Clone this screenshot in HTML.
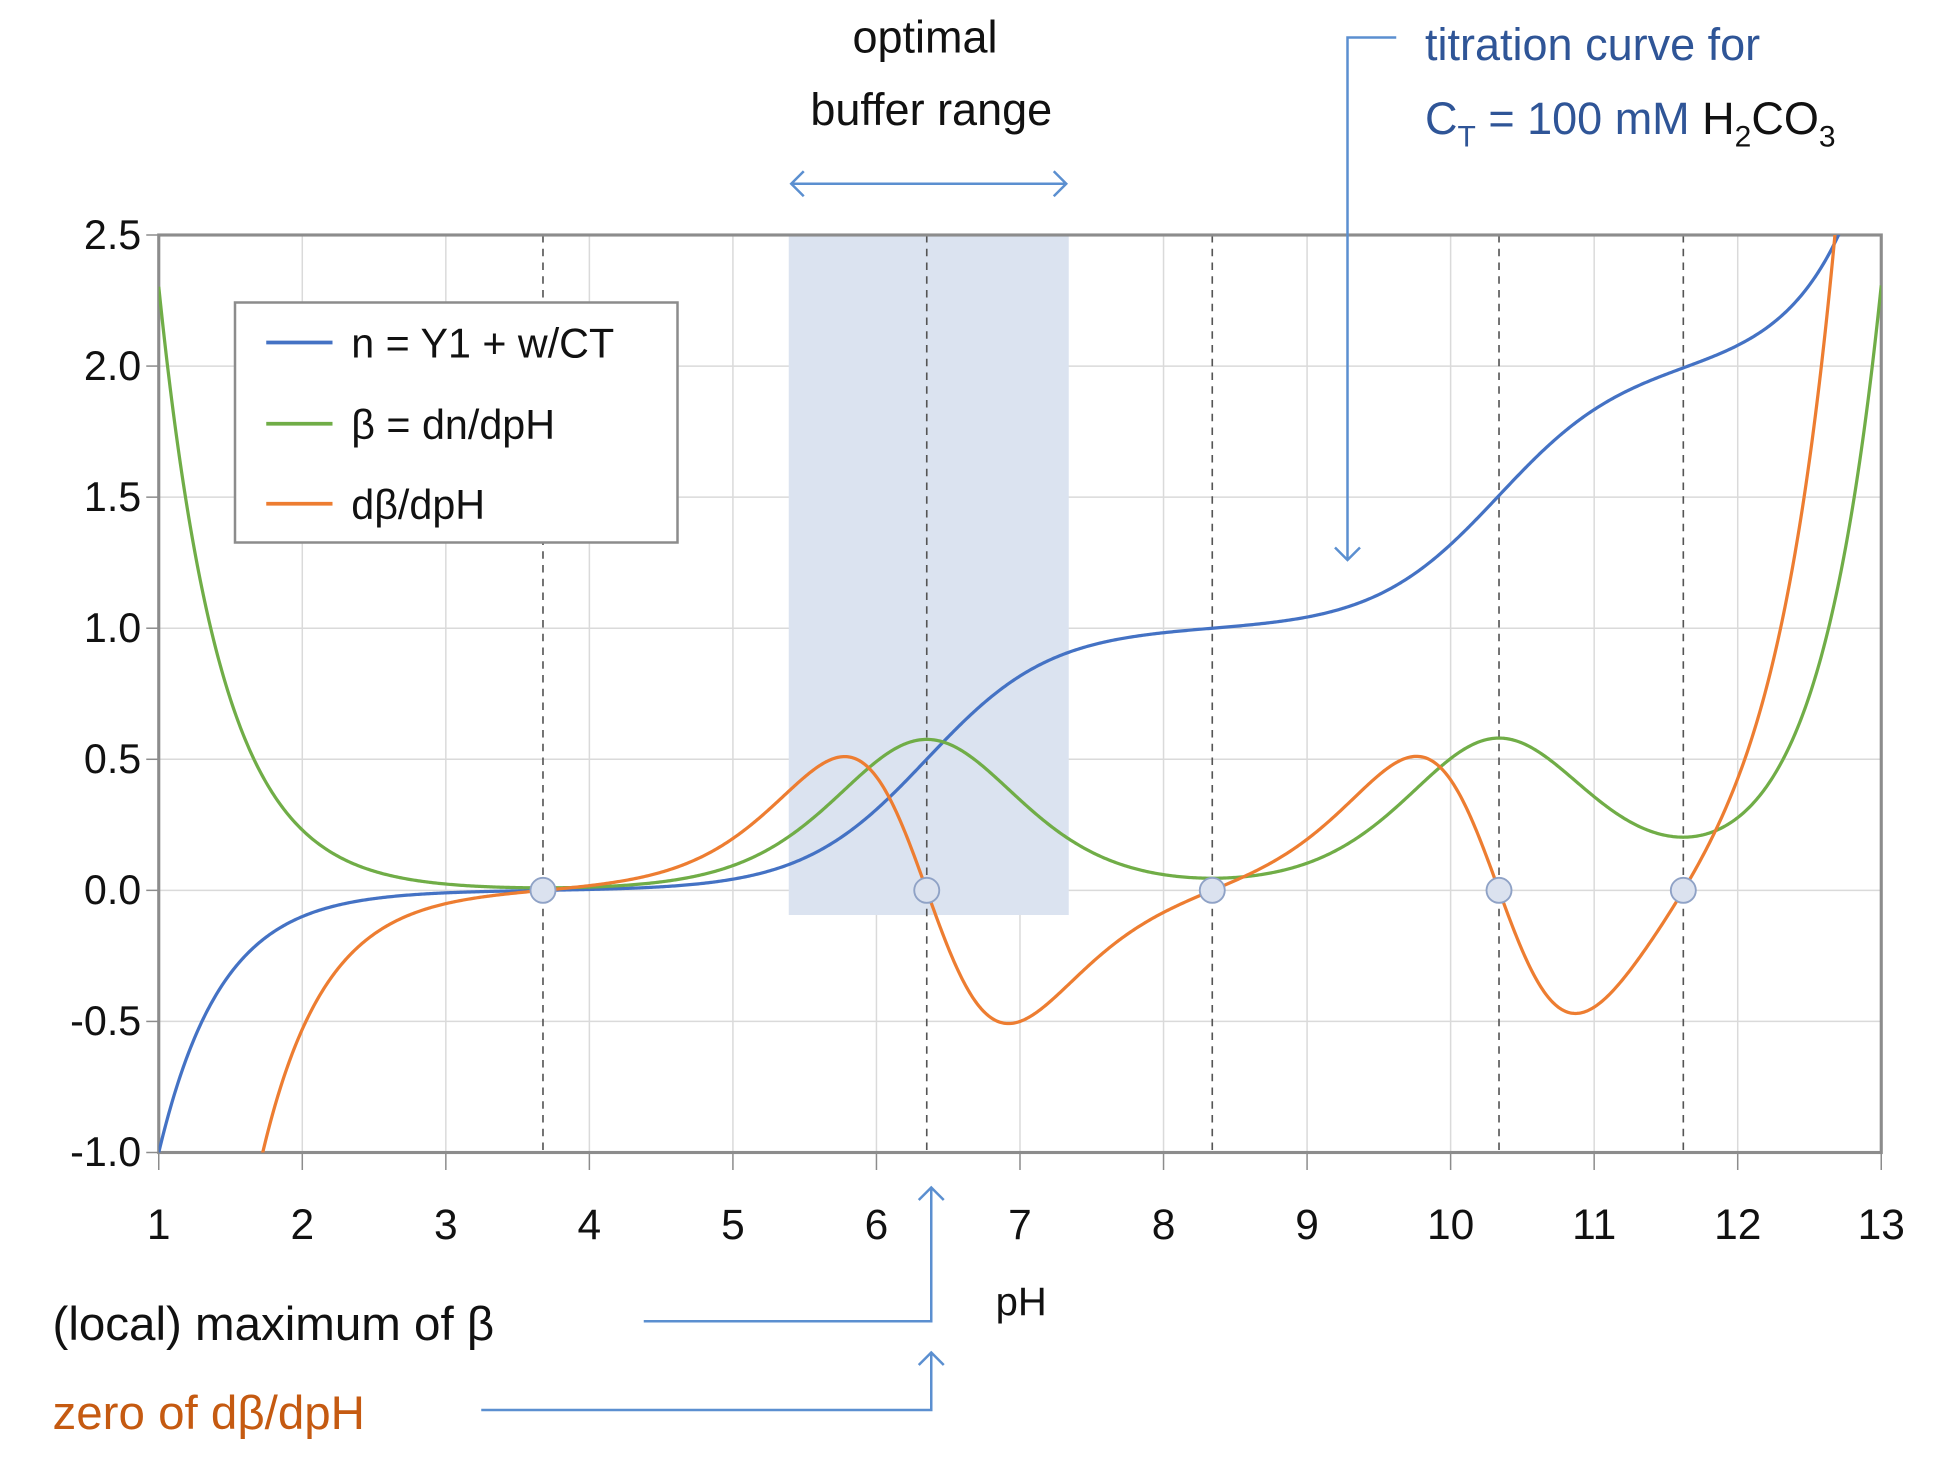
<!DOCTYPE html>
<html><head><meta charset="utf-8">
<style>
html,body{margin:0;padding:0;background:#fff;width:1959px;height:1458px;overflow:hidden;}
svg{display:block;}
text{font-family:"Liberation Sans",sans-serif;}
</style></head>
<body>
<svg id="s" width="1959" height="1458" viewBox="0 0 1567.2 1166.4" xmlns="http://www.w3.org/2000/svg">
<defs>
<clipPath id="pc"><rect x="127" y="188" width="1378" height="734"/></clipPath>
<marker id="ah" markerWidth="24" markerHeight="24" refX="12" refY="12" orient="auto-start-reverse" markerUnits="userSpaceOnUse" viewBox="0 0 24 24"><path d="M2,2 L12,12 L2,22" fill="none" stroke="#5b8fd0" stroke-width="2"/></marker>
</defs>
<rect x="0" y="0" width="1567.2" height="1166.4" fill="#fff"/>
<g id="grid" stroke="#dadada" stroke-width="1.2"></g>
<rect x="631" y="188" width="224" height="544" fill="#dbe3f0"/>
<g id="vd" stroke="#555" stroke-width="1.3" stroke-dasharray="6,5"></g>
<rect x="127" y="188" width="1378" height="734" fill="none" stroke="#8c8c8c" stroke-width="2.5"/>
<g clip-path="url(#pc)" fill="none" stroke-width="2.6">
<path id="pn" stroke="#4472c4"/>
<path id="pb" stroke="#70ad47"/>
<path id="pd" stroke="#ed7d31"/>
</g>
<g id="circ" fill="#dbe2ef" stroke="#8fa2c6" stroke-width="1.5"></g>
<g id="ylab" font-size="33" fill="#111" text-anchor="end"></g>
<g id="xlab" font-size="34" fill="#111" text-anchor="middle"></g>
<text x="817" y="1052" font-size="32" text-anchor="middle" fill="#111">pH</text>
<rect x="188" y="242" width="354" height="192" fill="#fff" stroke="#8c8c8c" stroke-width="2"/>
<line x1="213" y1="274" x2="266" y2="274" stroke="#4472c4" stroke-width="3"/>
<line x1="213" y1="339" x2="266" y2="339" stroke="#70ad47" stroke-width="3"/>
<line x1="213" y1="403" x2="266" y2="403" stroke="#ed7d31" stroke-width="3"/>
<text x="281" y="286" font-size="33" fill="#111">n = Y1 + w/CT</text>
<text x="281" y="351" font-size="33" fill="#111">β = dn/dpH</text>
<text x="281" y="415" font-size="33" fill="#111">dβ/dpH</text>
<text x="740" y="42" font-size="36" text-anchor="middle" fill="#111">optimal</text>
<text x="745" y="100" font-size="36" text-anchor="middle" fill="#111">buffer range</text>
<line x1="633" y1="147" x2="853" y2="147" stroke="#5b8fd0" stroke-width="2" marker-start="url(#ah)" marker-end="url(#ah)"/>
<polyline points="1117,30 1078,30 1078,448" fill="none" stroke="#5b8fd0" stroke-width="2" marker-end="url(#ah)"/>
<text x="1140" y="48" font-size="36" fill="#2f5597">titration curve for</text>
<text x="1140" y="107" font-size="36" fill="#2f5597">C<tspan font-size="24" dy="10">T</tspan><tspan dy="-10"> = 100 mM </tspan><tspan fill="#111">H<tspan font-size="24" dy="10">2</tspan><tspan dy="-10">CO</tspan><tspan font-size="24" dy="10">3</tspan></tspan></text>
<text x="42" y="1072" font-size="38" fill="#111">(local) maximum of β</text>
<polyline points="515,1057 745,1057 745,950" fill="none" stroke="#5b8fd0" stroke-width="2" marker-end="url(#ah)"/>
<text x="42" y="1143" font-size="38" fill="#c55a11">zero of dβ/dpH</text>
<polyline points="385,1128 745,1128 745,1082" fill="none" stroke="#5b8fd0" stroke-width="2" marker-end="url(#ah)"/>
<script>
(function(){
var NS="http://www.w3.org/2000/svg";
function X(p){return 127+(p-1)*114.833;}
function Y(v){return 188+(2.5-v)*209.714;}
function el(g,t,a,txt){var e=document.createElementNS(NS,t);for(var k in a)e.setAttribute(k,a[k]);if(txt!=null)e.textContent=txt;document.getElementById(g).appendChild(e);}
for(var p=2;p<=12;p++)el("grid","line",{x1:X(p),y1:188,x2:X(p),y2:922});
for(var v=-0.5;v<=2.0;v+=0.5)el("grid","line",{x1:127,y1:Y(v),x2:1505,y2:Y(v)});
for(var v=-1;v<=2.5;v+=0.5){el("ylab","text",{x:113,y:Y(v)+11},v.toFixed(1));el("grid","line",{x1:117,y1:Y(v),x2:127,y2:Y(v),stroke:"#8c8c8c"});}
for(var p=1;p<=13;p++){el("xlab","text",{x:X(p),y:991},String(p));el("grid","line",{x1:X(p),y1:922,x2:X(p),y2:936,stroke:"#8c8c8c"});}
var K1=Math.pow(10,-6.35),K2=Math.pow(10,-10.33),KW=1e-14,C=0.1;
function n(p){var h=Math.pow(10,-p);var D=h*h+K1*h+K1*K2;return (K1*h+2*K1*K2)/D+(KW/h-h)/C;}
var d=1e-3;
function b(p){return (n(p+d)-n(p-d))/(2*d);}
function db(p){return (b(p+d)-b(p-d))/(2*d);}
function path(f){var s="";for(var p=1;p<=13.0001;p+=0.01){var v=f(p);if(v>4)v=4;if(v<-3)v=-3;s+=(s?"L":"M")+X(p).toFixed(2)+","+Y(v).toFixed(2);}return s;}
document.getElementById("pn").setAttribute("d",path(n));
document.getElementById("pb").setAttribute("d",path(b));
document.getElementById("pd").setAttribute("d",path(db));
var zs=[3.67,6.35,8.33,10.33,11.62];
zs=zs.map(function(z){var a=z-0.3,c=z+0.3;var fa=db(a);for(var i=0;i<50;i++){var m=(a+c)/2,fm=db(m);if((fm>0)==(fa>0)){a=m;fa=fm;}else c=m;}return (a+c)/2;});
zs.forEach(function(z){el("vd","line",{x1:X(z),y1:188,x2:X(z),y2:922});el("circ","circle",{cx:X(z),cy:Y(0),r:10});});
})();
</script>
</svg>
</body></html>
